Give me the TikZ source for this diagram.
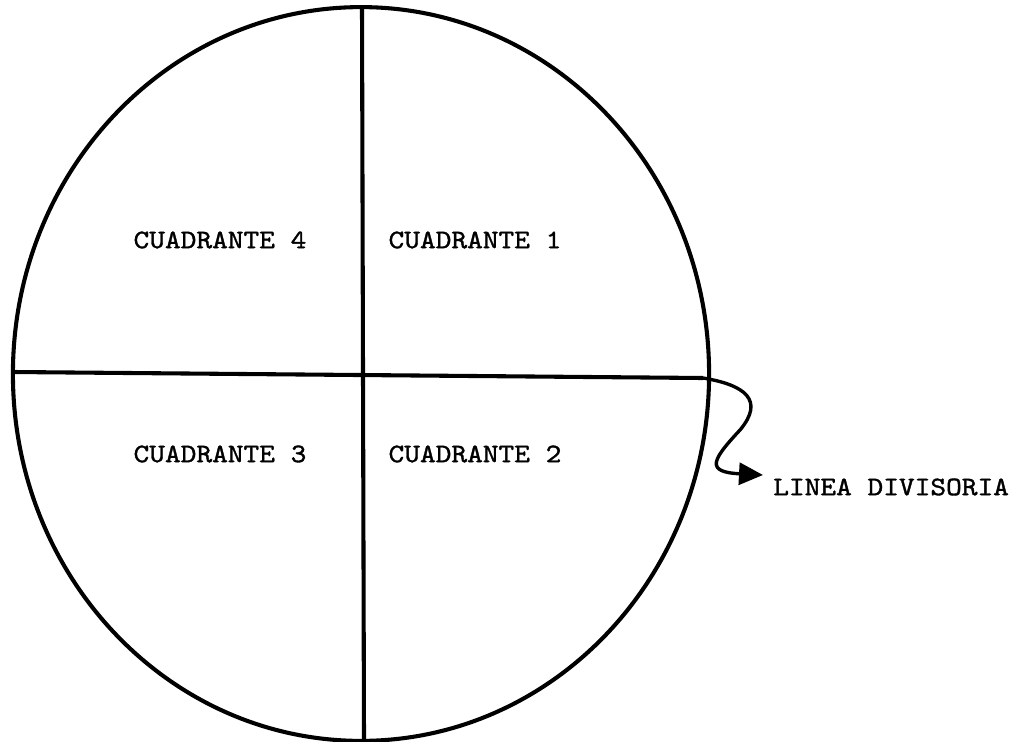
\documentclass[tikz,border=0pt]{standalone}
\usepackage{fontspec}
\newfontfamily\typew[Extension=.otf, FakeStretch=1.12, FakeBold=1.3]{lmmono10-regular}
\usepackage{tikz}
\usetikzlibrary{positioning, arrows.meta, calc}

\begin{document}
\begin{tikzpicture}[
        x=0.025cm, y=-0.025cm,
        >={Triangle[length=6mm, width=5.5mm]},
        outline/.style={draw, line width=2.9pt},
        quad/.style={font=\fontsize{19}{22}\selectfont\typew, inner sep=0pt},
        tag/.style={font=\fontsize{19}{22}\selectfont\typew, inner sep=0pt, anchor=west}
    ]
    \useasboundingbox (0,0) rectangle (1032,742);

    % --- Circle and dividing lines ---
    \draw[outline] (361,374) ellipse [x radius=8.7cm, y radius=9.17cm];
    \coordinate (top) at (362,7);
    \coordinate (bot) at (364,740);
    \coordinate (left) at (13,372);
    \coordinate (right) at (703,378);
    \draw[outline] (top) -- (bot);
    \draw[outline] (left) -- (right);

    % --- Quadrant labels ---
    \node[quad] (q4) at (220,240) {CUADRANTE 4};
    \node[quad] (q1) at (475,240) {CUADRANTE 1};
    \node[quad] (q3) at (220,454) {CUADRANTE 3};
    \node[quad] (q2) at (475,454) {CUADRANTE 2};

    % --- Pointer to the dividing line ---
    \node[tag] (lbl) at (773,487) {LINEA DIVISORIA};
    \coordinate (tip) at (763,475);
    \draw[->, line width=2.4pt] (right) .. controls (745,385) and (765,400) .. (740,430)
        .. controls (712,460) and (705,472) .. (tip);

\end{tikzpicture}
\end{document}
